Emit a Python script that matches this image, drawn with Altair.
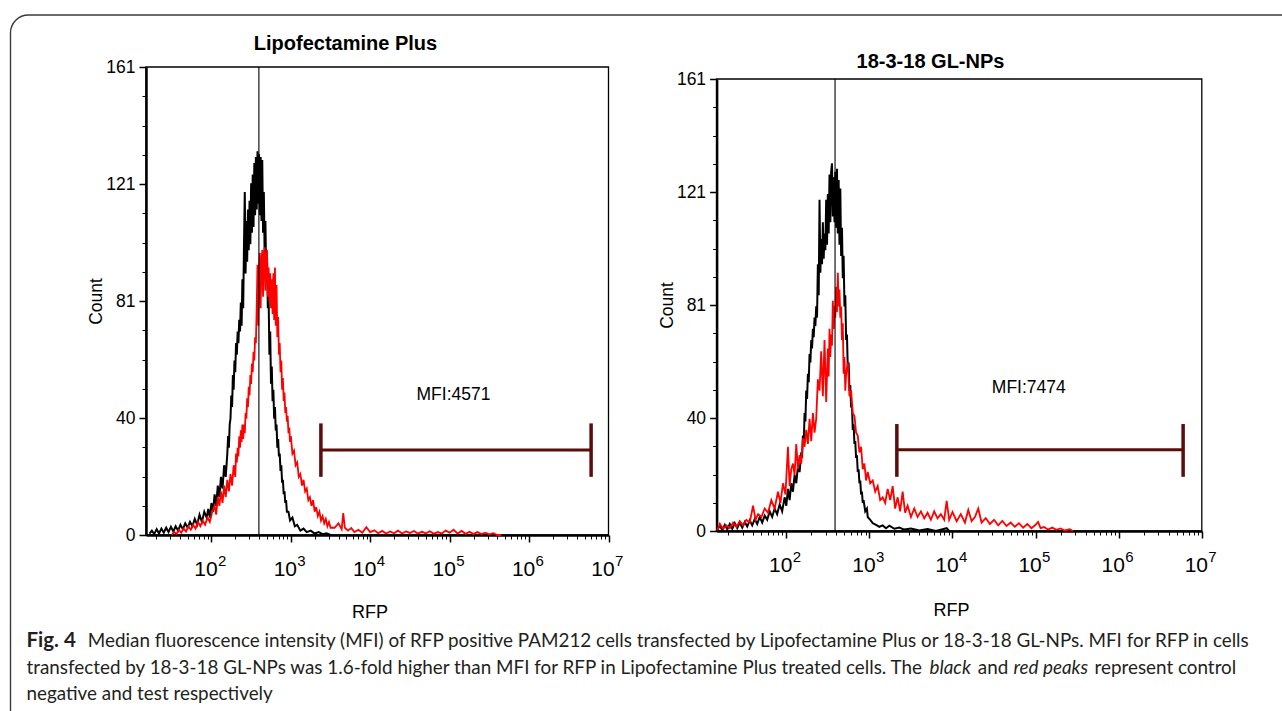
import altair as alt
import pandas as pd

W, H = 1282, 711
FONT = "Liberation Sans"
NARROW = "'Liberation Sans Narrow', 'Arial Narrow', 'Liberation Sans'"
CAP_FONT = "Lato"
GATE = "#5b0d0d"

# ---------------- values ----------------
panel_titles = ["Lipofectamine Plus", "18-3-18 GL-NPs"]
mfi_labels = ["MFI:4571", "MFI:7474"]
x_title = "RFP"
y_title = "Count"

x_tick_values = [1e2, 1e3, 1e4, 1e5, 1e6, 1e7]
x_tick_bases = ["10", "10", "10", "10", "10", "10"]
x_tick_powers = ["2", "3", "4", "5", "6", "7"]
y_tick_values = [0, 40.25, 80.5, 120.75, 161]
y_tick_labels = ["0", "40", "81", "121", "161"]

# (log10 RFP, count) pairs
# Lipofectamine Plus - control (black)
LB = [(1.22,0.5),(1.25,1.5),(1.28,0.3),(1.31,2),(1.34,0.5),(1.37,2.2),(1.40,0.8),(1.43,2.5),
      (1.46,1),(1.49,2.8),(1.52,1.2),(1.55,3),(1.58,1.5),(1.61,3.5),(1.64,2),(1.67,4),
      (1.70,2.5),(1.73,4.5),(1.76,3),(1.79,5.5),(1.82,3.5),(1.85,7),(1.88,4.5),(1.91,8),
      (1.94,6),(1.96,9),(1.98,6),(2.00,11),(2.02,8),(2.04,14),(2.06,10),(2.08,17),(2.10,13),
      (2.12,20),(2.14,16),(2.16,24),(2.18,20),(2.20,28),(2.21,34),(2.22,30),(2.23,38),
      (2.24,40),(2.25,48),(2.26,44),(2.27,55),(2.28,50),(2.29,60),(2.30,56),(2.31,66),
      (2.32,62),(2.33,70),(2.34,66),(2.35,74),(2.36,70),(2.37,80),(2.38,72),(2.39,88),
      (2.40,78),(2.41,100),(2.42,118),(2.43,90),(2.44,108),(2.45,94),(2.46,112),(2.47,98),
      (2.48,115),(2.49,100),(2.50,121),(2.51,104),(2.52,124),(2.53,106),(2.54,128),(2.55,110),
      (2.56,130),(2.57,112),(2.58,132),(2.59,114),(2.60,131),(2.61,110),(2.62,130),(2.63,108),
      (2.64,129),(2.65,104),(2.66,118),(2.67,96),(2.68,108),(2.69,88),(2.70,96),(2.71,78),
      (2.72,82),(2.73,62),(2.74,70),(2.75,52),(2.76,58),(2.77,46),(2.78,50),(2.79,40),
      (2.80,44),(2.81,36),(2.82,38),(2.83,30),(2.84,33),(2.85,27),(2.86,28),(2.87,22),
      (2.88,24),(2.89,18),(2.90,19),(2.91,14),(2.92,15),(2.93,11),(2.94,12),(2.95,8),
      (2.97,8),(2.99,5),(3.02,6),(3.05,3),(3.08,3.5),(3.12,1.5),(3.16,2.2),(3.20,1),
      (3.25,1.5),(3.30,0.5),(3.35,1),(3.40,0.3),(3.45,0.6),(3.50,0)]
# Lipofectamine Plus - test (red)
LR = [(1.50,0),(1.53,1),(1.56,0.4),(1.59,1.8),(1.62,0.8),(1.65,2.2),(1.68,1.2),(1.71,3),
      (1.74,1.8),(1.77,3.5),(1.80,2.2),(1.83,4.5),(1.86,3),(1.89,5),(1.92,3.5),(1.95,6),
      (1.98,4.5),(2.01,8),(2.04,10),(2.06,7),(2.08,13),(2.10,10),(2.12,15),(2.14,11),
      (2.16,17),(2.18,13),(2.20,19),(2.22,15),(2.24,21),(2.26,17),(2.28,24),(2.30,20),
      (2.31,28),(2.32,25),(2.33,30),(2.34,27),(2.35,34),(2.36,30),(2.37,36),(2.38,32),
      (2.39,38),(2.40,33),(2.41,38),(2.42,35),(2.43,42),(2.44,40),(2.45,47),(2.46,44),
      (2.47,51),(2.48,48),(2.49,55),(2.50,52),(2.51,59),(2.52,56),(2.53,63),(2.54,60),
      (2.55,68),(2.56,66),(2.57,78),(2.58,93),(2.59,72),(2.60,90),(2.61,97),(2.62,78),
      (2.63,94),(2.64,98),(2.65,82),(2.66,96),(2.67,99),(2.68,84),(2.69,95),(2.70,98),
      (2.71,82),(2.72,92),(2.73,80),(2.74,90),(2.75,78),(2.76,88),(2.77,76),(2.78,90),
      (2.79,74),(2.80,92),(2.81,72),(2.82,86),(2.83,68),(2.84,75),(2.85,62),(2.86,66),
      (2.87,56),(2.88,60),(2.89,50),(2.90,54),(2.91,46),(2.92,49),(2.93,42),(2.94,44),
      (2.95,39),(2.96,41),(2.97,35),(2.98,37),(2.99,32),(3.00,34),(3.02,28),(3.04,29),
      (3.06,24),(3.08,25),(3.10,20),(3.12,21),(3.14,17),(3.16,19),(3.18,15),(3.20,16),
      (3.22,12),(3.24,13),(3.26,10),(3.28,12),(3.30,8),(3.32,9.6),(3.34,6.5),(3.36,8),
      (3.38,5),(3.40,6.5),(3.42,4),(3.44,5.5),(3.46,3),(3.48,4.5),(3.50,2.5),(3.55,2.5),
      (3.60,4),(3.64,2),(3.66,7.5),(3.68,2.5),(3.72,1.5),(3.76,2.4),(3.80,1),(3.85,1.8),
      (3.90,0.8),(3.95,2.7),(4.00,1),(4.05,1.6),(4.10,0.6),(4.15,1.4),(4.20,0.5),(4.25,1.2),
      (4.30,0.6),(4.35,1.5),(4.40,0.5),(4.45,1.2),(4.50,0.7),(4.55,1.4),(4.60,0.5),(4.65,1.1),
      (4.70,0.6),(4.75,1.3),(4.80,0.4),(4.85,1),(4.90,0.5),(4.95,1.5),(5.00,0.8),(5.05,1.8),
      (5.10,0.5),(5.15,1.4),(5.20,0.4),(5.25,1.1),(5.30,0.3),(5.35,1),(5.40,0.3),(5.45,0.8),
      (5.50,0.2),(5.55,0.6),(5.60,0),(5.65,0)]
# 18-3-18 GL-NPs - control (black)
RB = [(1.17,0.5),(1.20,1.8),(1.23,0.4),(1.26,2.2),(1.29,0.6),(1.32,2.5),(1.35,0.8),(1.38,2.8),
      (1.41,1),(1.44,3),(1.47,1.2),(1.50,3.2),(1.53,1.6),(1.56,3.8),(1.59,2),(1.62,4.2),
      (1.65,2.5),(1.68,5),(1.71,3),(1.74,5.5),(1.77,4),(1.80,7),(1.83,5),(1.86,8),(1.89,6),
      (1.92,9.5),(1.95,7),(1.98,12),(2.00,9),(2.02,15),(2.04,11),(2.06,17),(2.08,14),
      (2.10,20),(2.12,17),(2.14,23),(2.16,21),(2.18,28),(2.19,26),(2.20,34),(2.21,31),
      (2.22,42),(2.23,39),(2.24,50),(2.25,47),(2.26,56),(2.27,53),(2.28,63),(2.29,60),
      (2.30,68),(2.31,65),(2.32,72),(2.33,69),(2.34,76),(2.35,73),(2.36,80),(2.37,76),
      (2.38,95),(2.39,84),(2.40,118),(2.41,92),(2.42,104),(2.43,95),(2.44,110),(2.45,97),
      (2.46,106),(2.47,100),(2.48,118),(2.49,102),(2.50,120),(2.51,106),(2.52,127),(2.53,110),
      (2.54,128),(2.55,131),(2.56,112),(2.57,126),(2.58,110),(2.59,128),(2.60,108),(2.61,129),
      (2.62,106),(2.63,125),(2.64,102),(2.65,122),(2.66,98),(2.67,108),(2.68,90),(2.69,98),
      (2.70,80),(2.71,84),(2.72,68),(2.73,70),(2.74,58),(2.75,60),(2.76,50),(2.77,52),
      (2.78,44),(2.79,45),(2.80,36),(2.81,38),(2.82,31),(2.83,32),(2.84,26),(2.85,27),
      (2.86,21),(2.87,22),(2.88,17),(2.89,18),(2.90,13),(2.91,14),(2.92,10),(2.93,11),
      (2.95,7),(2.97,8),(2.98,5),(3.01,4),(3.04,2.8),(3.08,2.2),(3.12,1.5),(3.16,2),(3.20,1),
      (3.24,1.9),(3.30,0.8),(3.36,1.2),(3.42,0.5),(3.50,0.9),(3.60,0.2),(3.70,0.7),(3.80,0),
      (3.93,1),(3.96,0)]
# 18-3-18 GL-NPs - test (red)
RR = [(1.17,0.3),(1.20,2.6),(1.24,0.8),(1.28,2),(1.32,1),(1.36,3),(1.40,1.5),(1.44,3.5),
      (1.48,2),(1.52,4),(1.56,3),(1.60,9),(1.63,4),(1.66,6),(1.70,5),(1.74,8),(1.78,6.5),
      (1.82,11),(1.86,8),(1.90,14),(1.93,10),(1.96,17),(1.99,13),(2.02,30),(2.04,16),
      (2.06,22),(2.08,24),(2.10,20),(2.12,31),(2.14,22),(2.16,27),(2.18,24),(2.20,33),
      (2.22,30),(2.24,36),(2.26,31),(2.28,40),(2.30,32),(2.32,42),(2.34,35),(2.36,40),
      (2.38,54),(2.40,50),(2.42,64),(2.44,48),(2.46,68),(2.48,46),(2.50,65),(2.51,55),
      (2.52,72),(2.53,62),(2.54,70),(2.55,66),(2.56,82),(2.57,72),(2.58,80),(2.59,76),
      (2.60,87),(2.61,78),(2.62,92),(2.63,80),(2.64,86),(2.65,76),(2.66,80),(2.67,68),
      (2.68,74),(2.69,56),(2.70,62),(2.71,50),(2.72,56),(2.74,60),(2.76,48),(2.78,50),
      (2.80,42),(2.82,41),(2.84,35),(2.86,34),(2.88,28),(2.90,30),(2.92,22),(2.94,24),
      (2.96,18),(2.98,21),(3.01,17),(3.04,18),(3.07,14),(3.10,16),(3.13,11),(3.16,12),
      (3.19,10),(3.22,15),(3.25,11),(3.28,16),(3.31,8),(3.34,12),(3.37,7),(3.40,14),
      (3.43,6.5),(3.46,9),(3.50,5),(3.54,8),(3.58,5),(3.62,7),(3.66,4.5),(3.70,6.5),(3.74,4),
      (3.78,7),(3.82,4.5),(3.86,6),(3.90,4),(3.93,10.7),(3.96,4),(4.00,6.8),(4.05,3.5),
      (4.10,6),(4.15,3),(4.19,7.5),(4.23,3.5),(4.27,5),(4.31,8),(4.35,3),(4.40,4.6),(4.45,2.5),
      (4.50,4),(4.55,2),(4.60,3.6),(4.65,1.8),(4.70,3),(4.75,1.5),(4.80,2.8),(4.85,1.2),
      (4.90,2.5),(4.95,1),(5.00,2.2),(5.03,3.2),(5.06,1),(5.10,1.4),(5.15,0.5),(5.20,1.2),
      (5.25,0.4),(5.30,0.9),(5.35,0.2),(5.41,0.6),(5.45,0)]

# marker line, gate and MFI annotation (data units)
marker_rfp = [396, 386]
gate_lo = [2390, 2140]
gate_hi = [6.04e6, 5.96e6]
gate_level = [29.2, 28.9]
gate_cap_lo = [20.0, 19.3]
gate_cap_hi = [38.4, 38.1]
mfi_rfp = [1.117e5, 8.28e4]
mfi_count = [46.4, 49.2]
x_domain_min = [15.0, 14.5]

caption_texts = [
    "Fig. 4",
    "Median fluorescence intensity (MFI) of RFP positive PAM212 cells transfected by Lipofectamine Plus or 18-3-18 GL-NPs. MFI for RFP in cells",
    "transfected by 18-3-18 GL-NPs was 1.6-fold higher than MFI for RFP in Lipofectamine Plus treated cells. The",
    "black",
    "and",
    "red peaks",
    "represent control",
    "negative and test respectively",
]


def lookup(values, labels):
    vals = ",".join(repr(float(v)) for v in values)
    labs = ",".join("'" + s + "'" for s in labels)
    return f"[{labs}][indexof([{vals}], datum.value)]"


def series(pairs):
    return pd.DataFrame({"rfp": [10 ** e for e, _ in pairs], "count": [c for _, c in pairs]})


AX = dict(grid=False, titleFont=FONT, labelColor="black",
          titleColor="black", tickColor="black", domainColor="black")

# layout of the two panels on the page (pixels)
panels = [
    dict(xr=[146, 608.5], yr=[535, 67], title_x=345.5, title_y=49.5,
         xtx=369.5, xty=82, ytx=-50, yty=301),
    dict(xr=[716.6, 1201.8], yr=[531, 79], title_x=930.5, title_y=67.5,
         xtx=951, xty=84, ytx=-49, yty=305),
]


def panel(i, black, red):
    p = panels[i]
    xmin = x_domain_min[i]
    xs = alt.Scale(type="log", domain=[xmin, 1e7], range=p["xr"], nice=False)
    ys = alt.Scale(domain=[0, 161], range=p["yr"], nice=False, zero=False)
    xoff = p["yr"][0] - H
    yoff = -p["xr"][0]
    x_minor = [k * 10 ** n for n in range(1, 7) for k in range(2, 10) if k * 10 ** n >= xmin]
    y_minor = [k * 161 / 16 for k in range(17) if k % 4]

    x_major_axis = alt.Axis(orient="bottom", offset=xoff, values=x_tick_values,
                            labelExpr=lookup(x_tick_values, x_tick_bases), labelFontSize=21,
                            labelFont=NARROW,
                            labelAlign="center", labelBaseline="alphabetic", labelOffset=-6,
                            labelPadding=33, labelFlush=False, labelOverlap=False,
                            tickSize=7, tickWidth=1.5, domainWidth=2.5,
                            title=x_title, titleFontSize=18, titleFontWeight="normal",
                            titleX=p["xtx"], titleY=p["xty"], titleAlign="center",
                            titleBaseline="alphabetic", **AX)
    y_major_axis = alt.Axis(orient="left", offset=yoff, values=y_tick_values,
                            labelExpr=lookup(y_tick_values, y_tick_labels), labelFontSize=17.5,
                            labelFont=FONT,
                            labelPadding=4, labelFlush=False, labelOverlap=False,
                            tickSize=7, tickWidth=1.5, domainWidth=2.5,
                            title=y_title, titleFontSize=17.5, titleFontWeight="normal",
                            titleX=p["ytx"], titleY=p["yty"], titleAngle=270,
                            titleAlign="center", titleBaseline="middle", **AX)
    x_minor_axis = alt.Axis(orient="bottom", offset=xoff, values=x_minor, labels=False,
                            domain=False, tickSize=4, tickWidth=1, title=None, **AX)
    y_minor_axis = alt.Axis(orient="left", offset=yoff, values=y_minor, labels=False,
                            domain=False, tickSize=4, tickWidth=1, title=None, **AX)
    x_pow_axis = alt.Axis(orient="bottom", offset=xoff, values=x_tick_values,
                          labelExpr=lookup(x_tick_values, x_tick_powers), labelFontSize=15,
                          labelFont=NARROW,
                          labelAlign="left", labelBaseline="alphabetic", labelOffset=6,
                          labelPadding=30, labelFlush=False, labelOverlap=False,
                          domain=False, tickSize=0, title=None, **AX)

    frame_df = pd.DataFrame({"x": [xmin], "x2": [1e7], "y": [0], "y2": [161]})
    frame = alt.Chart(frame_df).mark_rect(fillOpacity=0, stroke="black", strokeWidth=1.3).encode(
        x=alt.X("x:Q", scale=xs, axis=x_major_axis), x2="x2:Q",
        y=alt.Y("y:Q", scale=ys, axis=y_major_axis), y2="y2:Q")

    blk = alt.Chart(black).mark_line(color="black", strokeWidth=2).encode(
        x=alt.X("rfp:Q", scale=xs, axis=x_minor_axis),
        y=alt.Y("count:Q", scale=ys, axis=y_minor_axis))
    rd = alt.Chart(red).mark_line(color="#ff0000", strokeWidth=1.8).encode(
        x=alt.X("rfp:Q", scale=xs, axis=x_pow_axis),
        y=alt.Y("count:Q", scale=ys, axis=None))

    mk_df = pd.DataFrame({"rfp": [marker_rfp[i]], "lo": [0], "hi": [161]})
    marker = alt.Chart(mk_df).mark_rule(color="black", strokeWidth=1.1).encode(
        x=alt.X("rfp:Q", scale=xs, axis=None),
        y=alt.Y("lo:Q", scale=ys, axis=None), y2="hi:Q")

    g_df = pd.DataFrame({"a": [gate_lo[i]], "b": [gate_hi[i]], "lvl": [gate_level[i]]})
    gate = alt.Chart(g_df).mark_rule(color=GATE, strokeWidth=3).encode(
        x=alt.X("a:Q", scale=xs, axis=None), x2="b:Q",
        y=alt.Y("lvl:Q", scale=ys, axis=None))
    c_df = pd.DataFrame({"x": [gate_lo[i], gate_hi[i]],
                         "lo": [gate_cap_lo[i]] * 2, "hi": [gate_cap_hi[i]] * 2})
    caps = alt.Chart(c_df).mark_rule(color=GATE, strokeWidth=3.5).encode(
        x=alt.X("x:Q", scale=xs, axis=None),
        y=alt.Y("lo:Q", scale=ys, axis=None), y2="hi:Q")

    t_df = pd.DataFrame({"x": [mfi_rfp[i]], "y": [mfi_count[i]], "t": [mfi_labels[i]]})
    mfi = alt.Chart(t_df).mark_text(font=FONT, fontSize=17.5, align="center",
                                    baseline="alphabetic", color="black").encode(
        x=alt.X("x:Q", scale=xs, axis=None),
        y=alt.Y("y:Q", scale=ys, axis=None), text="t:N")

    title = alt.Chart().mark_text(font=FONT, fontSize=20, fontWeight="bold", align="center",
                                  baseline="alphabetic", color="black").encode(
        x=alt.value(p["title_x"]), y=alt.value(p["title_y"]), text=alt.value(panel_titles[i]))

    return [frame, blk, rd, marker, gate, caps, mfi, title]


left = panel(0, series(LB), series(LR))
right = panel(1, series(RB), series(RR))

border = alt.Chart().mark_rect(cornerRadius=18, fillOpacity=0, stroke="#3a3a3a",
                               strokeWidth=1.4, clip=True).encode(
    x=alt.value(10.5), x2=alt.value(1340), y=alt.value(15), y2=alt.value(800))

# caption layout: (x, y, size, weight, style) for each caption text
cap_layout = [
    (26.5, 647, 20.5, "bold", "normal"),
    (87.8, 647, 18.85, "normal", "normal"),
    (26.5, 674, 18.85, "normal", "normal"),
    (929.5, 674, 18.85, "normal", "italic"),
    (977.8, 674, 18.85, "normal", "normal"),
    (1013.5, 674, 18.85, "normal", "italic"),
    (1094.5, 674, 18.85, "normal", "normal"),
    (26.5, 700, 18.85, "normal", "normal"),
]
caption = []
for txt, (cx, cy, fs, wt, st) in zip(caption_texts, cap_layout):
    caption.append(alt.Chart().mark_text(font=CAP_FONT, fontSize=fs, fontWeight=wt,
                                         fontStyle=st, align="left", baseline="alphabetic",
                                         color="#231f20").encode(
        x=alt.value(cx), y=alt.value(cy), text=alt.value(txt)))

chart = alt.layer(border, *left, *right, *caption).resolve_scale(
    x="independent", y="independent"
).properties(
    width=W, height=H, autosize=alt.AutoSizeParams(type="none"), padding=0,
    background="white"
).configure_view(stroke=None)

chart.save("out.html", embed_options={"renderer": "svg", "actions": False})
